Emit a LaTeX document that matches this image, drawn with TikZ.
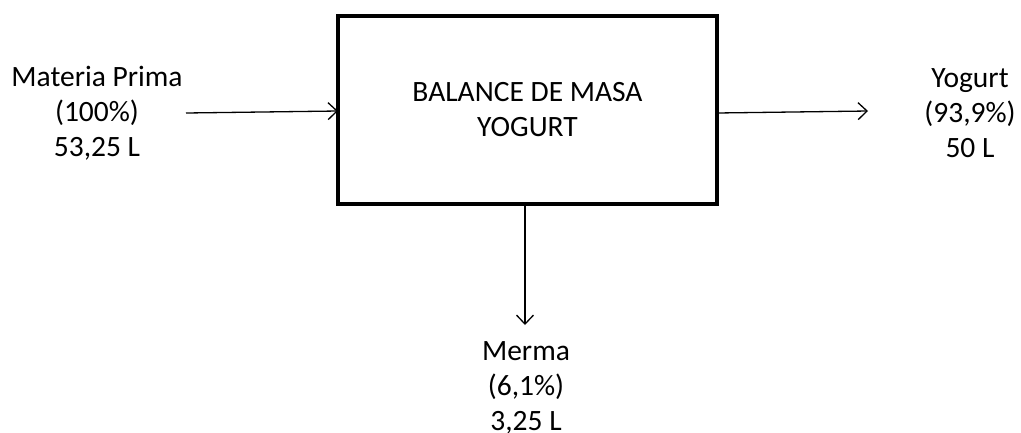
\documentclass[tikz,border=0pt]{standalone}
\usepackage{fontspec}
\setmainfont{Carlito}
\usetikzlibrary{arrows.meta}
\begin{document}
\begin{tikzpicture}[x=1pt,y=-1pt,
  lbl/.style={align=center,inner sep=0pt,font=\fontsize{29.5}{35}\selectfont},
  flow/.style={line width=1.3pt,-{Straight Barb[length=9pt,width=17pt,line width=1.3pt]}},
  procbox/.style={draw,line width=3.2pt,minimum width=379pt,minimum height=188pt,inner sep=0pt}]
  \useasboundingbox (0,0) rectangle (1021,432);
  % process block
  \node[procbox,lbl] (box) at (527.5,110) {BALANCE DE MASA\\YOGURT};
  % stream labels
  \node[lbl] (feed) at (97,113) {Materia Prima\\(100\%)\\53,25 L};
  \node[lbl] (prod) at (970,113) {Yogurt\\(93,9\%)\\50 L};
  \node[lbl] (loss) at (526,388) {Merma\\(6,1\%)\\3,25 L};
  % arrow ends
  \coordinate (feedA) at (186,113);
  \coordinate (feedB) at (338,111);
  \coordinate (prodA) at (717,113);
  \coordinate (prodB) at (868,111);
  \coordinate (lossA) at (525,204);
  \coordinate (lossB) at (525,325);
  \draw[flow] (feedA) -- (feedB);
  \draw[flow] (prodA) -- (prodB);
  \draw[flow] (lossA) -- (lossB);
\end{tikzpicture}
\end{document}
